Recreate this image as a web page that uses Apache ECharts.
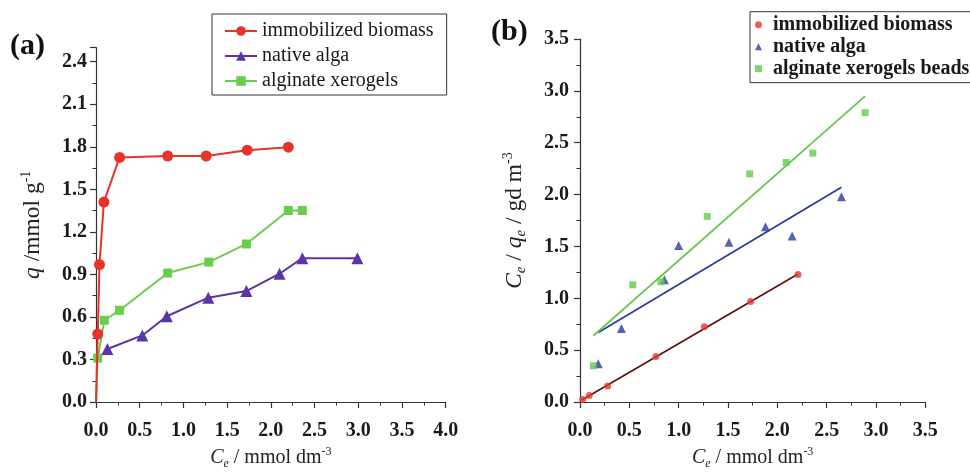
<!DOCTYPE html>
<html><head><meta charset="utf-8">
<script src="https://cdn.jsdelivr.net/npm/echarts@6/dist/echarts.min.js"></script>
<style>html,body{margin:0;padding:0;background:#fff}#c{width:970px;height:475px}</style>
</head><body><div id="c"></div>
<script>
// ---- Panel (a): q vs Ce ----
const aImmobilized = [[0,0],[0.02,0.48],[0.04,0.97],[0.09,1.41],[0.27,1.725],[0.82,1.735],[1.26,1.735],[1.73,1.776],[2.20,1.797]];
const aNative = [[0.13,0.374],[0.53,0.47],[0.81,0.605],[1.285,0.736],[1.72,0.783],[2.10,0.905],[2.36,1.015],[2.99,1.015]];
const aNativeLead = [[0,0.285],[0.13,0.374]];
const aAlginate = [[0,0],[0.02,0.31],[0.095,0.577],[0.27,0.647],[0.82,0.91],[1.29,0.987],[1.72,1.115],[2.20,1.351],[2.36,1.351]];
const aNames = ['immobilized biomass','native alga','alginate xerogels'];
// ---- Panel (b): Ce/qe vs Ce ----
const bImmobilized = [[0.027,0.025],[0.094,0.063],[0.28,0.154],[0.77,0.44],[1.26,0.727],[1.73,0.97],[2.21,1.23]];
const bNative = [[0.185,0.37],[0.42,0.71],[0.855,1.18],[1.00,1.51],[1.51,1.54],[1.88,1.69],[2.15,1.60],[2.65,1.98]];
const bAlginate = [[0.135,0.35],[0.535,1.13],[0.82,1.16],[1.29,1.79],[1.72,2.20],[2.09,2.31],[2.36,2.40],[2.89,2.79]];
const bFitImmobilized = [[0.02,0.02],[2.21,1.235]];
const bFitNative = [[0.185,0.67],[2.65,2.07]];
const bFitAlginate = [[0.135,0.64],[2.89,2.95]];
const bNames = ['immobilized biomass','native alga','alginate xerogels beads'];

const SERIF = 'Liberation Serif';
const C = {aRed:'#e8332a', aPurple:'#5b34a8', aGreen:'#6acd4f', bRed:'#e3392f', bBlue:'#2b3d9f', bGreen:'#66c94c', bFitRed:'#5a1010'};

const chart = echarts.init(document.getElementById('c'), null, {renderer:'canvas'});

function axisBase(min, max, interval){
  return {
    type:'value', min:min, max:max, interval:interval,
    axisLine:{show:true, onZero:false, lineStyle:{color:'#333', width:1.2}},
    axisTick:{show:true, length:6, lineStyle:{color:'#333', width:1.2}},
    minorTick:{show:true, splitNumber:2, length:3.5, lineStyle:{color:'#333', width:1}},
    splitLine:{show:false},
    axisLabel:{fontFamily:SERIF, fontWeight:'bold', fontSize:20, color:'#1a1a1a', formatter:v=>v.toFixed(1), showMaxLabel:true}
  };
}
function richName(fs){
  const lh = Math.round(fs*1.2);
  return {
    n:{fontFamily:SERIF, fontSize:fs, color:'#222', lineHeight:lh, verticalAlign:'middle'},
    i:{fontFamily:SERIF, fontSize:fs, fontStyle:'italic', color:'#222', lineHeight:lh, verticalAlign:'middle'},
    sub:{fontFamily:SERIF, fontSize:Math.round(fs*0.62), fontStyle:'italic', color:'#222', verticalAlign:'bottom'},
    sup:{fontFamily:SERIF, fontSize:Math.round(fs*0.58), color:'#222', verticalAlign:'top'}
  };
}
const xNameStyle = {fontFamily:SERIF, fontSize:20, color:'#222', rich:richName(20)};
const yNameStyle = {fontFamily:SERIF, fontSize:23.5, color:'#222', rich:richName(23.5)};

const xA = Object.assign(axisBase(0,4,0.5), {gridIndex:0, name:'{i|C}{sub|e}{n| / mmol dm}{sup|-3}', nameLocation:'middle', nameGap:41, nameTextStyle:xNameStyle});
xA.axisLabel.margin = 19;
const yA = Object.assign(axisBase(0,2.5,0.3), {gridIndex:0, name:'{i|q}{n| /mmol g}{sup|-1}', nameLocation:'middle', nameGap:49, nameTextStyle:yNameStyle});
yA.axisLabel.showMaxLabel = false; yA.axisLabel.margin = 9;
const xB = Object.assign(axisBase(0,3.5,0.5), {gridIndex:1, name:'{i|C}{sub|e}{n| / mmol dm}{sup|-3}', nameLocation:'middle', nameGap:41, nameTextStyle:xNameStyle});
xB.axisLabel.margin = 19;
const yB = Object.assign(axisBase(0,3.5,0.5), {gridIndex:1, name:'{i|C}{sub|e}{n| / }{i|q}{sub|e}{n| / gd m}{sup|-3}', nameLocation:'middle', nameGap:51, nameTextStyle:yNameStyle});
yB.axisLabel.margin = 11;

function firstNoSymbol(arr){ return arr.map((p,i)=> i===0 ? {value:p, symbol:'none'} : p); }

const option = {
  animation:false,
  backgroundColor:'#fff',
  grid:[
    {left:96, top:47.5, width:349.7, height:356.5},
    {left:580, top:39, width:345.3, height:364.5}
  ],
  xAxis:[xA, xB],
  yAxis:[yA, yB],
  legend:[
    {
      left:212, top:14, orient:'vertical', data:aNames,
      padding:[7,13,4,12], itemGap:5, itemWidth:32, itemHeight:12,
      borderColor:'#333', borderWidth:1, backgroundColor:'#fff',
      textStyle:{fontFamily:SERIF, fontSize:20, color:'#1a1a1a'}
    },
    {
      left:750, top:11.7, orient:'vertical',
      data:[
        {name:'b:'+bNames[0], icon:'circle', itemStyle:{color:C.bRed}},
        {name:'b:'+bNames[1], icon:'triangle', itemStyle:{color:C.bBlue}},
        {name:'b:'+bNames[2], icon:'rect', itemStyle:{color:C.bGreen}}
      ],
      formatter:n=>n.replace(/^b:/,''),
      padding:[3,16,4,5], itemGap:2, itemWidth:7, itemHeight:7,
      borderColor:'#333', borderWidth:1, backgroundColor:'#fff',
      textStyle:{fontFamily:SERIF, fontSize:20, fontWeight:'bold', color:'#1a1a1a', padding:[0,0,0,6]}
    }
  ],
  graphic:[
    {type:'text', left:10, top:31, style:{text:'(a)', font:'bold 30px '+SERIF, fill:'#111'}},
    {type:'text', left:491, top:17, style:{text:'(b)', font:'bold 30px '+SERIF, fill:'#111'}}
  ],
  series:[
    {name:'aNativeLead', type:'line', xAxisIndex:0, yAxisIndex:0, data:aNativeLead, symbol:'none', lineStyle:{color:'#222', width:0.8}, silent:true, z:1},
    {name:aNames[2], type:'line', xAxisIndex:0, yAxisIndex:0, data:firstNoSymbol(aAlginate), symbol:'rect', symbolSize:9, color:C.aGreen, lineStyle:{width:2}, z:2},
    {name:aNames[1], type:'line', xAxisIndex:0, yAxisIndex:0, data:aNative, symbol:'triangle', symbolSize:12, color:C.aPurple, lineStyle:{width:2}, z:3},
    {name:aNames[0], type:'line', xAxisIndex:0, yAxisIndex:0, data:firstNoSymbol(aImmobilized), symbol:'circle', symbolSize:11, color:C.aRed, lineStyle:{width:2}, z:4},

    {name:'fitImm', type:'line', xAxisIndex:1, yAxisIndex:1, data:bFitImmobilized, symbol:'none', lineStyle:{color:C.bFitRed, width:1.6}, z:2, silent:true},
    {name:'fitNat', type:'line', xAxisIndex:1, yAxisIndex:1, data:bFitNative, symbol:'none', lineStyle:{color:C.bBlue, width:1.8}, z:2, silent:true},
    {name:'fitAlg', type:'line', xAxisIndex:1, yAxisIndex:1, data:bFitAlginate, symbol:'none', lineStyle:{color:C.bGreen, width:1.8}, z:2, silent:true},
    {name:'b:'+bNames[0], type:'scatter', xAxisIndex:1, yAxisIndex:1, data:bImmobilized, symbol:'circle', symbolSize:7, itemStyle:{color:C.bRed}, z:3},
    {name:'b:'+bNames[1], type:'scatter', xAxisIndex:1, yAxisIndex:1, data:bNative, symbol:'triangle', symbolSize:9, itemStyle:{color:C.bBlue}, z:3},
    {name:'b:'+bNames[2], type:'scatter', xAxisIndex:1, yAxisIndex:1, data:bAlginate, symbol:'rect', symbolSize:7, itemStyle:{color:C.bGreen}, z:3}
  ]
};
chart.setOption(option);
</script>
</body></html>
